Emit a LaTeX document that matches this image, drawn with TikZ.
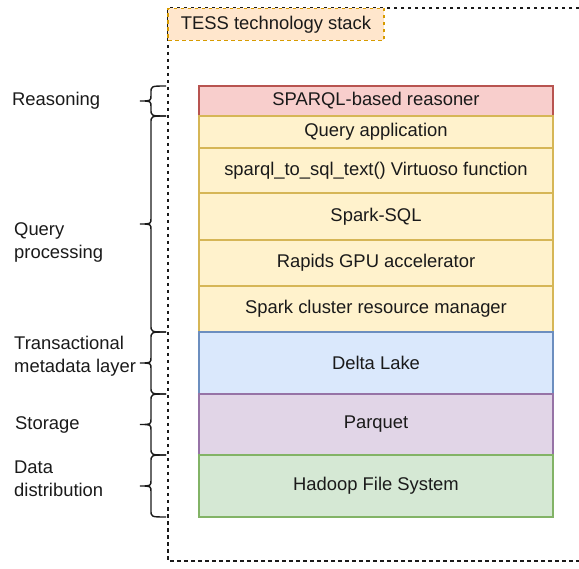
\documentclass[tikz,border=0pt]{standalone}
\usepackage{fontspec}
\setmainfont{Liberation Sans}
\definecolor{rosefill}{HTML}{F8CECC}
\definecolor{roseline}{HTML}{B85450}
\definecolor{creamfill}{HTML}{FFF2CC}
\definecolor{creamline}{HTML}{D6B656}
\definecolor{skyfill}{HTML}{DAE8FC}
\definecolor{skyline}{HTML}{6C8EBF}
\definecolor{lilacfill}{HTML}{E1D5E7}
\definecolor{lilacline}{HTML}{9673A6}
\definecolor{sagefill}{HTML}{D5E8D4}
\definecolor{sageline}{HTML}{82B366}
\definecolor{peachfill}{HTML}{FFE6CC}
\definecolor{peachline}{HTML}{D79B00}
\definecolor{ink}{HTML}{1A1A1A}

\tikzset{
    layer/.style={line width=1.2pt, minimum width=354pt, inner sep=0pt, text=ink},
    rose/.style={draw=roseline, fill=rosefill},
    cream/.style={draw=creamline, fill=creamfill},
    sky/.style={draw=skyline, fill=skyfill},
    lilac/.style={draw=lilacline, fill=lilacfill},
    sage/.style={draw=sageline, fill=sagefill},
    dashline/.style={line width=1.3pt, dash pattern=on 3.5pt off 3.5pt},
    bracket/.style={line width=1.4pt, ink},
    tier/.style={anchor=west, align=left, inner sep=0pt, text=ink}
}

\begin{document}
\begin{tikzpicture}[x=1pt, y=-1pt, font=\fontsize{18.4}{23}\selectfont]
    \useasboundingbox (0,0) rectangle (579,569);

    % frame
    \draw[dashline, ink] (579,8) -- (168,8) -- (168,561) -- (579,561);
    \node[dashline, draw=peachline, fill=peachfill, text=ink, minimum width=216pt, minimum height=32pt, inner sep=0pt] (stack) at (276,24.5) {TESS technology stack};

    % layers
    \foreach \name/\y/\h/\col/\txt in {reasoner/101/30/rose/SPARQL-based reasoner,
            app/132/32/cream/Query application,
            virtuoso/170.5/45/cream/sparql\_to\_sql\_text() Virtuoso function,
            sparksql/216.5/47/cream/Spark-SQL,
            rapids/263/46/cream/Rapids GPU accelerator,
            cluster/309/46/cream/Spark cluster resource manager,
            delta/363/62/sky/Delta Lake,
            parquet/424.5/61/lilac/Parquet,
            hdfs/486/62/sage/Hadoop File System}
        \node[layer, \col, minimum height=\h pt] (\name) at (376,\y) {\raisebox{-1.5pt}{\txt}};

    % brackets
    \foreach \t/\b in {86/116, 116/332, 332/394, 394/455, 455/517} {
        \pgfmathsetmacro\m{(\t+\b)/2}
        \draw[bracket] (166,\t) .. controls (151,\t) .. (151,\t+7) -- (151,\m-6)
            .. controls (151,\m) .. (140,\m) .. controls (151,\m) .. (151,\m+6)
            -- (151,\b-7) .. controls (151,\b) .. (166,\b);
    }

    % labels
    \node[tier] (reasoning) at (12,101) {Reasoning};
    \node[tier] (query) at (14,242) {Query\\processing};
    \node[tier] (transact) at (14,356) {Transactional\\metadata layer};
    \node[tier] (storage) at (15,425) {Storage};
    \node[tier] (distrib) at (14,479) {Data\\distribution};
\end{tikzpicture}
\end{document}
